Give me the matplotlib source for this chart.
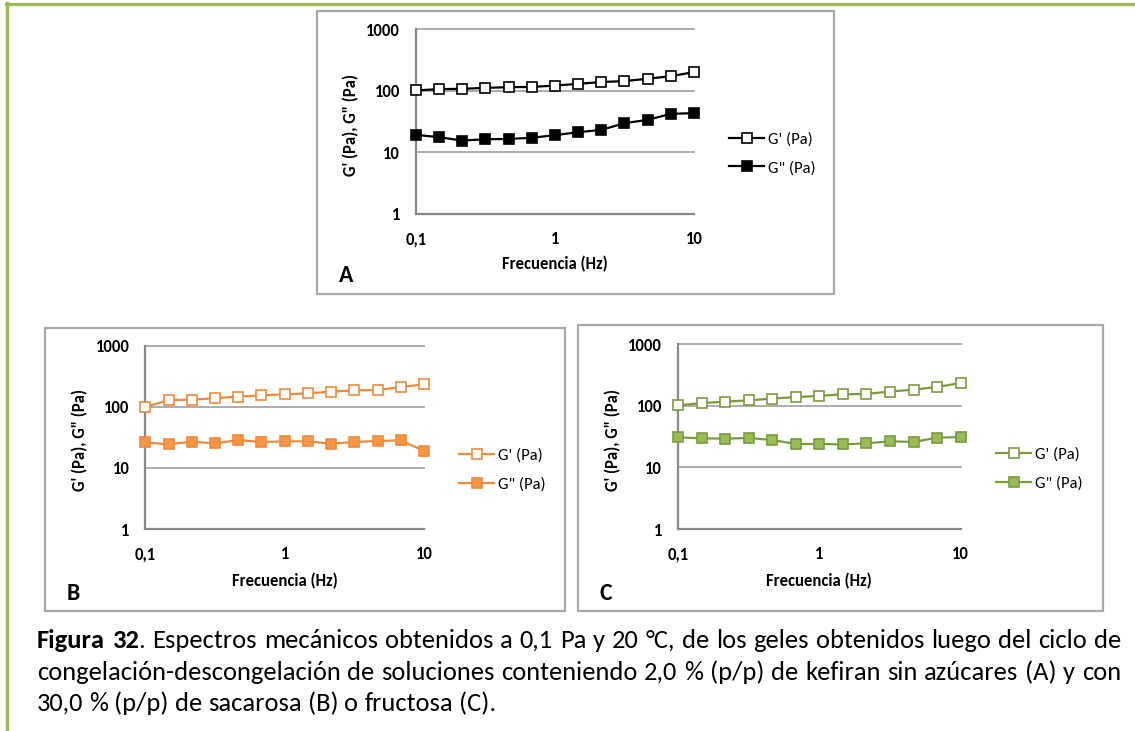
import matplotlib
matplotlib.use("Agg")
import matplotlib.pyplot as plt
from matplotlib import font_manager as fm
from matplotlib.patches import Rectangle
from matplotlib.lines import Line2D
from matplotlib.ticker import FixedLocator, FixedFormatter, NullLocator

# ---------------------------------------------------------------- data
freq = [0.1, 0.147, 0.215, 0.316, 0.464, 0.681, 1.0, 1.47, 2.15, 3.16, 4.64, 6.81, 10.0]

a_gp = [101, 106, 107, 111, 114, 115, 121, 129, 138, 143, 156, 172, 200]
a_gpp = [19.2, 17.6, 15.5, 16.3, 16.5, 17.2, 19.0, 21.2, 23.1, 29.7, 33.6, 42.1, 43.2]

b_gp = [99, 129, 131, 138, 147, 154, 160, 166, 177, 186, 188, 211, 233]
b_gpp = [26.2, 24.3, 26.9, 25.2, 28.6, 26.5, 27.2, 27.2, 24.9, 26.5, 27.5, 28.3, 18.9]

c_gp = [101, 110, 116, 122, 130, 138, 144, 153, 155, 169, 182, 201, 233]
c_gpp = [30.6, 29.5, 29.2, 29.9, 27.8, 23.9, 23.9, 23.6, 24.5, 26.4, 25.8, 30.3, 31.0]

x_ticks = [0.1, 1, 10]
x_ticklabels = ["0,1", "1", "10"]
y_ticks = [1, 10, 100, 1000]
y_ticklabels = ["1", "10", "100", "1000"]

series_labels = ["G' (Pa)", 'G" (Pa)']
x_title = "Frecuencia (Hz)"
y_title = 'G\' (Pa), G" (Pa)'

caption_lines = [
    "Figura 32. Espectros mecánicos obtenidos a 0,1 Pa y 20 °C, de los geles obtenidos luego del ciclo de",
    "congelación-descongelación de soluciones conteniendo 2,0 % (p/p) de kefiran sin azúcares (A) y con",
    "30,0 % (p/p) de sacarosa (B) o fructosa (C).",
]


def pick(cands):
    for c in cands:
        try:
            fm.findfont(fm.FontProperties(family=c), fallback_to_default=False)
            return c
        except Exception:
            pass
    return "DejaVu Sans"


CHART_FONT = pick(["Carlito", "Lato", "Open Sans", "DejaVu Sans"])
CAP_FONT = pick(["Carlito", "Liberation Sans Narrow", "Lato", "DejaVu Sans"])
plt.rcParams["font.family"] = [CHART_FONT, "DejaVu Sans"]

FS = 12  # chart text size

W, H = 1135, 731
fig = plt.figure(figsize=(W / 100, H / 100), dpi=100)


def fx(px):
    return px / W


def fy(py):
    return 1 - py / H


def add_axes_px(left, top, right, bottom):
    return fig.add_axes([fx(left), fy(bottom), (right - left) / W, (bottom - top) / H])


def frame_px(left, top, right, bottom):
    fig.patches.append(Rectangle((fx(left), fy(bottom)), (right - left) / W, (bottom - top) / H,
                                 transform=fig.transFigure, fill=False,
                                 edgecolor="#a8a8a8", linewidth=1.6, zorder=0))


# page decoration (green rule on top and left)
fig.add_artist(Line2D([fx(6), 1], [fy(4), fy(4)], transform=fig.transFigure,
                      color="#9bbb59", linewidth=2.4))
fig.add_artist(Line2D([fx(7), fx(7)], [fy(3), 0], transform=fig.transFigure,
                      color="#9bbb59", linewidth=2.4))

panels = [
    dict(frame=(317, 11, 834, 294), axes=(416, 29, 694, 214),
         gp=a_gp, gpp=a_gpp, line="#000000", fill="#000000", letter="A",
         letter_pos=(346, 276), xl=(0.5, -0.27), yl=(-0.234, 0.48), leg=(1.126, 0.327)),
    dict(frame=(45, 328, 565, 611), axes=(145.3, 345.7, 424, 529),
         gp=b_gp, gpp=b_gpp, line="#f08a3c", fill="#f79646", letter="B",
         letter_pos=(73, 593), xl=(0.5, -0.284), yl=(-0.234, 0.486), leg=(1.126, 0.322)),
    dict(frame=(578, 325, 1103, 611), axes=(678, 344, 960.7, 529),
         gp=c_gp, gpp=c_gpp, line="#7a9a3e", fill="#9bbb59", letter="C",
         letter_pos=(606, 593), xl=(0.5, -0.281), yl=(-0.23, 0.481), leg=(1.125, 0.324)),
]

for p in panels:
    frame_px(*p["frame"])
    ax = add_axes_px(*p["axes"])
    ax.set_xscale("log")
    ax.set_yscale("log")
    ax.set_xlim(0.1, 10)
    ax.set_ylim(1, 1000)

    ax.plot(freq, p["gp"], color=p["line"], linewidth=1.6, marker="s", markersize=7.2,
            markerfacecolor="white", markeredgecolor=p["line"], markeredgewidth=1.2,
            clip_on=False, zorder=3, label=series_labels[0])
    ax.plot(freq, p["gpp"], color=p["line"], linewidth=1.6, marker="s", markersize=7.2,
            markerfacecolor=p["fill"], markeredgecolor=p["line"], markeredgewidth=1.2,
            clip_on=False, zorder=3, label=series_labels[1])

    ax.xaxis.set_major_locator(FixedLocator(x_ticks))
    ax.xaxis.set_major_formatter(FixedFormatter(x_ticklabels))
    ax.yaxis.set_major_locator(FixedLocator(y_ticks))
    ax.yaxis.set_major_formatter(FixedFormatter(y_ticklabels))
    ax.xaxis.set_minor_locator(NullLocator())
    ax.yaxis.set_minor_locator(NullLocator())
    ax.tick_params(axis="both", length=0, labelsize=FS, colors="#000000")
    ax.tick_params(axis="x", pad=12.5)
    ax.tick_params(axis="y", pad=11.5)
    for t in ax.get_xticklabels() + ax.get_yticklabels():
        t.set_fontweight("bold")

    ax.grid(axis="y", color="#a6a6a6", linewidth=1.3)
    for gl in ax.get_ygridlines():
        gl.set_clip_on(False)
    ax.set_axisbelow(True)
    for s in ("top", "right"):
        ax.spines[s].set_visible(False)
    for s in ("left", "bottom"):
        ax.spines[s].set_color("#888888")
        ax.spines[s].set_linewidth(1.6)

    ax.set_xlabel(x_title, fontsize=FS, fontweight="bold")
    ax.xaxis.set_label_coords(*p["xl"])
    ax.xaxis.label.set_va("center")
    ax.set_ylabel(y_title, fontsize=FS, fontweight="bold")
    ax.yaxis.set_label_coords(*p["yl"])
    ax.yaxis.label.set_va("center")

    ax.legend(loc="center left", bbox_to_anchor=p["leg"], frameon=False, fontsize=FS,
              borderpad=0, borderaxespad=0, handlelength=2.1, handletextpad=0.25,
              labelspacing=0.85)

    fig.text(fx(p["letter_pos"][0]), fy(p["letter_pos"][1]), p["letter"],
             fontsize=17, fontweight="bold", ha="center", va="center")

# ---------------------------------------------------------------- caption
renderer = fig.canvas.get_renderer()
cap_family = [CAP_FONT, "DejaVu Sans"]


def measure(s, size, weight="normal"):
    t = fig.text(0, 0, s, fontsize=size, fontweight=weight, family=cap_family)
    w = t.get_window_extent(renderer).width
    t.remove()
    return w


def words_of(line, first_bold=0):
    out = []
    for i, w in enumerate(line.split(" ")):
        if i < first_bold:
            if w.endswith("."):
                out.append([(w[:-1], "bold"), (".", "normal")])
            else:
                out.append([(w, "bold")])
        else:
            out.append([(w, "normal")])
    return out


cap_left, cap_right = 37, 1121
cap_base = [648, 680, 711]

size = 15.0
nat = sum(measure(seg, size, wt) for word in words_of(caption_lines[0], 2) for seg, wt in word)
nat += measure(" ", size) * (len(caption_lines[0].split(" ")) - 1)
size = size * 1072 / nat

for li, line in enumerate(caption_lines):
    words = words_of(line, 2 if li == 0 else 0)
    widths = [[measure(seg, size, wt) for seg, wt in word] for word in words]
    totals = [sum(w) for w in widths]
    if li < 2:
        gap = (cap_right - cap_left - sum(totals)) / (len(words) - 1)
    else:
        gap = measure("a a", size) - 2 * measure("a", size)
    x = cap_left
    for word, ws in zip(words, widths):
        xx = x
        for (seg, wt), w in zip(word, ws):
            fig.text(fx(xx), fy(cap_base[li]), seg, fontsize=size, fontweight=wt,
                     family=cap_family, ha="left", va="baseline", color="#000000")
            xx += w
        x += sum(ws) + gap

fig.savefig("out.png", dpi=100)
